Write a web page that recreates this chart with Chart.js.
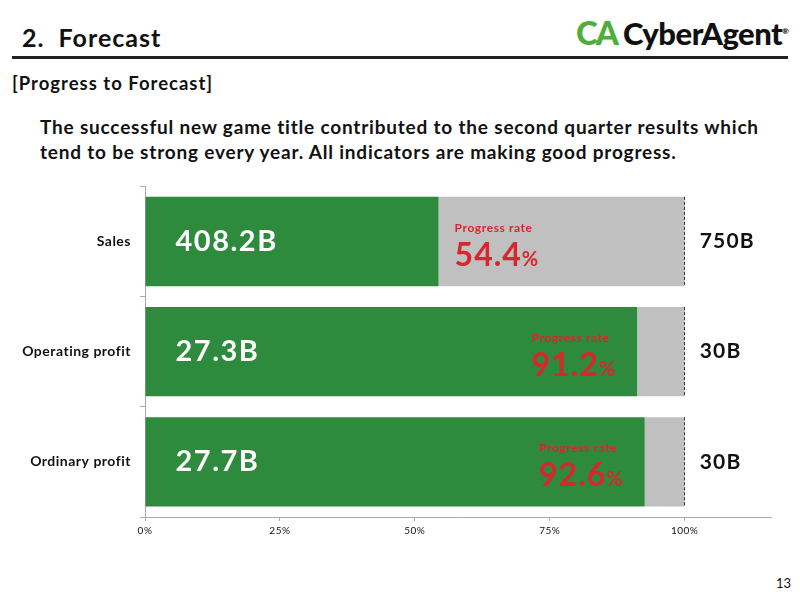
<!DOCTYPE html>
<html>
<head>
<meta charset="utf-8">
<script src="https://cdn.jsdelivr.net/npm/chart.js@4"></script>
<style>
  body { margin: 0; width: 800px; height: 600px; position: relative; background: #fff; font-family: Lato, "Noto Sans", sans-serif; color: #111; overflow: hidden; }
  .abs { position: absolute; white-space: nowrap; }
  #title { left: 22px; top: 22px; font-size: 25px; font-weight: 700; letter-spacing: 1px; }
  #rule { left: 12px; top: 56px; width: 776px; height: 3px; background: #222; }
  #sub { left: 12px; top: 72px; font-size: 18.5px; font-weight: 700; letter-spacing: 1px; }
  #body { left: 40px; top: 114px; font-size: 19px; font-weight: 700; line-height: 25px; letter-spacing: 0.8px; }
  #logo { left: 576px; top: 12px; font-size: 31px; font-weight: 900; letter-spacing: -0.5px; }
  #logo .ca { color: #4fae3a; font-size: 33px; letter-spacing: -2px; margin-right: 6px; }
  #logo sup { font-size: 8px; }
  #page { left: 776px; top: 575px; font-size: 13px; }
  #wrap { position: absolute; left: 0; top: 169px; width: 800px; height: 378px; }
</style>
</head>
<body>
<div class="abs" id="title">2.&nbsp; Forecast</div>
<div class="abs" id="logo"><span class="ca">CA</span>CyberAgent<sup>®</sup></div>
<div class="abs" id="rule"></div>
<div class="abs" id="sub">[Progress to Forecast]</div>
<div class="abs" id="body">The successful new game title contributed to the second quarter results which<br>tend to be strong every year. All indicators are making good progress.</div>
<div id="wrap"><canvas id="chart"></canvas></div>
<div class="abs" id="page">13</div>

<script>
  // Data
  const categories = ['Sales', 'Operating profit', 'Ordinary profit'];
  const actualLabels = ['408.2B', '27.3B', '27.7B'];
  const forecastLabels = ['750B', '30B', '30B'];
  const progressRates = [54.4, 91.2, 92.6];
  const remainder = progressRates.map(r => 100 - r);
  const xTicks = [0, 25, 50, 75, 100];

  const green = '#2e8b3d';
  const grey = '#c0c0c0';
  const red = '#d8262c';
  const fontFamily = 'Lato, "Noto Sans", sans-serif';

  // wider letter spacing to get closer to the slide's font
  const spacingPlugin = {
    id: 'spacing',
    beforeDraw(chart) { chart.ctx.letterSpacing = '0.5px'; }
  };

  const labelPlugin = {
    id: 'barLabels',
    afterDatasetsDraw(chart) {
      const ctx = chart.ctx;
      const greenMeta = chart.getDatasetMeta(0);
      const greyMeta = chart.getDatasetMeta(1);
      ctx.save();
      greenMeta.data.forEach((bar, i) => {
        const y = bar.y;
        const top = y - bar.height / 2;
        const bottom = y + bar.height / 2;

        // actual value inside the green bar
        ctx.letterSpacing = '1.5px';
        ctx.fillStyle = '#fff';
        ctx.font = '700 29px ' + fontFamily;
        ctx.textAlign = 'left';
        ctx.textBaseline = 'middle';
        ctx.fillText(actualLabels[i], bar.base + 30, y);

        // progress rate
        ctx.letterSpacing = '1px';
        const num = progressRates[i].toFixed(1);
        ctx.font = '700 32px ' + fontFamily;
        const numW = ctx.measureText(num).width;
        ctx.font = '700 20px ' + fontFamily;
        const pctW = ctx.measureText('%').width;
        let left;
        if (progressRates[i] > 80) {
          left = bar.x - 21 - numW - pctW;
        } else {
          left = bar.x + 16;
        }
        ctx.fillStyle = red;
        ctx.textBaseline = 'alphabetic';
        ctx.font = '700 12px ' + fontFamily;
        ctx.letterSpacing = '0.6px';
        ctx.fillText('Progress rate', left, y - 10);
        ctx.letterSpacing = '1px';
        ctx.font = '700 32px ' + fontFamily;
        ctx.fillText(num, left, y + 24);
        ctx.font = '700 20px ' + fontFamily;
        ctx.fillText('%', left + numW, y + 24);

        // dashed line at 100% on the grey bar
        const g = greyMeta.data[i];
        ctx.strokeStyle = '#333';
        ctx.lineWidth = 1;
        ctx.setLineDash([3, 2]);
        ctx.beginPath();
        ctx.moveTo(Math.round(g.x) - 0.5, top);
        ctx.lineTo(Math.round(g.x) - 0.5, bottom);
        ctx.stroke();
        ctx.setLineDash([]);

        // forecast value to the right
        ctx.letterSpacing = '1.2px';
        ctx.fillStyle = '#111';
        ctx.font = '700 21px ' + fontFamily;
        ctx.textBaseline = 'middle';
        ctx.fillText(forecastLabels[i], g.x + 15, y);
      });
      ctx.restore();
    }
  };

  new Chart(document.getElementById('chart'), {
    type: 'bar',
    data: {
      labels: categories,
      datasets: [
        { label: 'Actual', data: progressRates, backgroundColor: green, barPercentage: 0.81, categoryPercentage: 1 },
        { label: 'Remaining', data: remainder, backgroundColor: grey, barPercentage: 0.81, categoryPercentage: 1 }
      ]
    },
    options: {
      indexAxis: 'y',
      responsive: true,
      maintainAspectRatio: false,
      animation: false,
      layout: { padding: { top: 3, right: 29, left: 0, bottom: 0 } },
      plugins: { legend: { display: false }, tooltip: { enabled: false } },
      scales: {
        x: {
          stacked: true,
          min: 0,
          max: 116,
          afterBuildTicks: s => { s.ticks = xTicks.map(v => ({ value: v })); },
          afterFit: s => { s.height = 30; },
          border: { color: '#aaa' },
          grid: { drawOnChartArea: false, tickLength: 4, color: '#aaa' },
          ticks: { callback: v => v + '%', color: '#111', font: { size: 10, family: fontFamily }, padding: 4 }
        },
        y: {
          stacked: true,
          afterFit: s => { s.width = 145; },
          border: { color: '#aaa' },
          grid: { drawOnChartArea: false, tickLength: 5, color: '#aaa' },
          ticks: { color: '#111', font: { size: 14, weight: 'bold', family: fontFamily }, padding: 9 }
        }
      }
    },
    plugins: [spacingPlugin, labelPlugin]
  });
</script>
</body>
</html>
